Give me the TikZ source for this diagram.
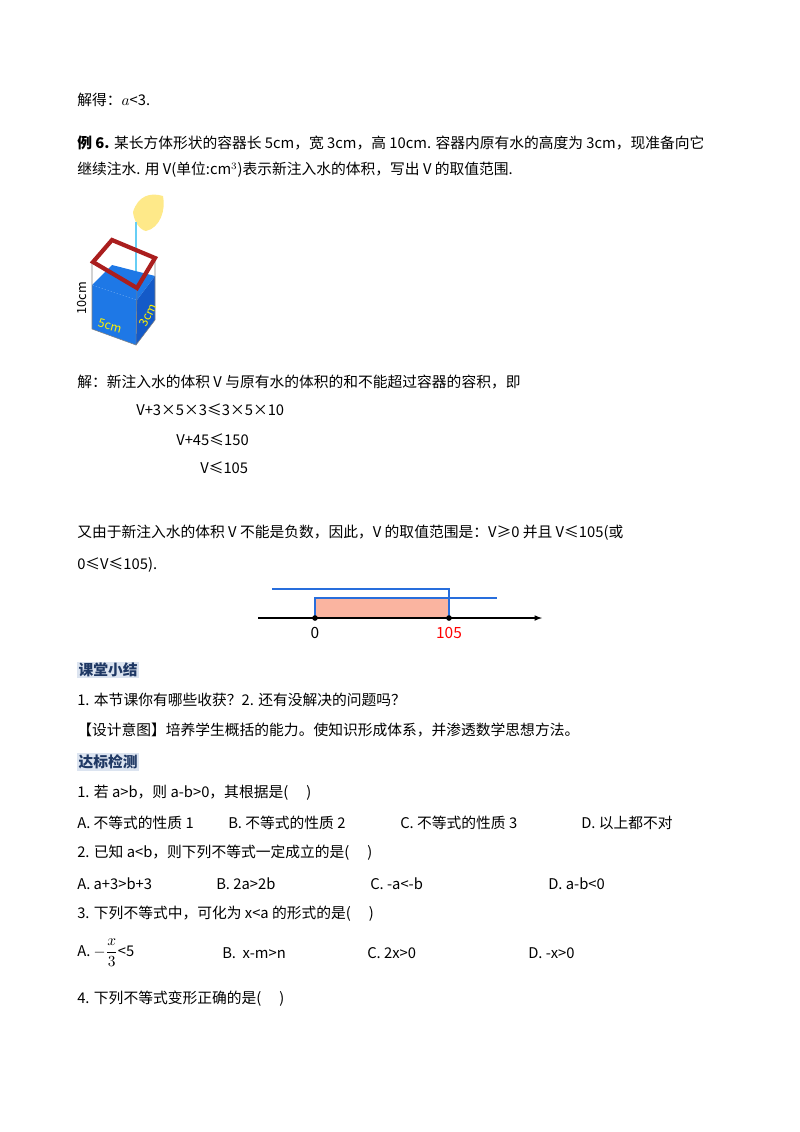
\documentclass[tikz,border=0pt]{standalone}
\usepackage{fontspec}
\setmainfont{Noto Sans CJK SC}
\definecolor{headblue}{RGB}{31,56,100}
\definecolor{headbg}{RGB}{220,228,240}
\definecolor{water}{RGB}{30,120,230}
\definecolor{waterdark}{RGB}{20,90,200}
\definecolor{rim}{RGB}{170,30,30}
\definecolor{lineblue}{RGB}{40,110,220}
\definecolor{pinkfill}{RGB}{250,180,160}
\begin{document}
\begin{tikzpicture}[x=0.025cm,y=-0.025cm,
    txt/.style={anchor=west,inner sep=0pt,font=\fontsize{10.5pt}{12pt}\selectfont},
    head/.style={txt,fill=headbg,text=headblue,font=\fontsize{10.5pt}{12pt}\selectfont\bfseries,inner sep=1pt}]
\useasboundingbox (0,0) rectangle (800,1132);
% text lines
\node[txt] (l1) at (77,100) {解得：$a$<3.};
\node[txt] (l2) at (77,143) {\textbf{例 6.} 某长方体形状的容器长 5cm，宽 3cm，高 10cm. 容器内原有水的高度为 3cm，现准备向它};
\node[txt] (l3) at (77,170) {继续注水. 用 V(单位:cm$^3$)表示新注入水的体积，写出 V 的取值范围.};
% container
\fill[yellow!70!orange!45] (133,212) .. controls (138,196) and (150,192) .. (163,196) .. controls (166,210) and (160,228) .. (146,231) .. controls (140,230) and (134,222) .. cycle;
\draw[cyan!60,line width=1.5pt] (136,222) -- (136,290);
\fill[water] (92,285) -- (112,265) -- (155,276) -- (137,300) -- cycle;
\fill[water] (92,285) -- (137,300) -- (136,345) -- (92,329) -- cycle;
\fill[waterdark] (137,300) -- (155,276) -- (155,320) -- (136,345) -- cycle;
\draw[gray] (92,262) -- (92,329) -- (136,345) -- (155,320) -- (155,258);
\draw[gray] (137,288) -- (136,345);
\draw[rim,line width=3pt] (93,262) -- (112,240) -- (155,258) -- (137,288) -- cycle;
\node[rotate=90,inner sep=0pt,font=\fontsize{9pt}{9pt}\selectfont] (h) at (82,298) {10cm};
\node[text=yellow,rotate=-15,inner sep=0pt,font=\fontsize{8.5pt}{9pt}\selectfont] (w) at (110,326) {5cm};
\node[text=yellow,rotate=65,inner sep=0pt,font=\fontsize{8.5pt}{9pt}\selectfont] (d) at (148,315) {3cm};
% solution
\node[txt] (s1) at (77,382) {解：新注入水的体积 V 与原有水的体积的和不能超过容器的容积，即};
\node[txt] (s2) at (136,410) {V+3×5×3≤3×5×10};
\node[txt] (s3) at (176,440) {V+45≤150};
\node[txt] (s4) at (200,468) {V≤105};
\node[txt] (s5) at (77,533) {又由于新注入水的体积 V 不能是负数，因此，V 的取值范围是：V≥0 并且 V≤105(或};
\node[txt] (s6) at (77,565) {0≤V≤105).};
% number line
\coordinate (ax0) at (258,618);
\coordinate (ax1) at (542,618);
\coordinate (p0) at (315,618);
\coordinate (p1) at (449,618);
\fill[pinkfill] (315,598) rectangle (449,618);
\draw[lineblue,thick] (272,589) -| (p1);
\draw[lineblue,thick] (p0) |- (497,598);
\draw[thick,-latex] (ax0) -- (ax1);
\fill (p0) circle (2pt) (p1) circle (2pt);
\node[inner sep=0pt,font=\fontsize{11pt}{11pt}\selectfont] (n0) at (315,633) {0};
\node[inner sep=0pt,text=red,font=\fontsize{11pt}{11pt}\selectfont] (n1) at (449,633) {105};
% summary
\node[head] (h1) at (77,670) {课堂小结};
\node[txt] (t1) at (77,700) {1. 本节课你有哪些收获？2. 还有没解决的问题吗？};
\node[txt] (t2) at (77,730) {【设计意图】培养学生概括的能力。使知识形成体系，并渗透数学思想方法。};
\node[head] (h2) at (77,762) {达标检测};
\node[txt] (q1) at (77,793) {1. 若 a>b，则 a-b>0，其根据是(\quad\ )};
\node[txt] (q1a) at (77,823) {A. 不等式的性质 1};
\node[txt] (q1b) at (228,823) {B. 不等式的性质 2};
\node[txt] (q1c) at (400,823) {C. 不等式的性质 3};
\node[txt] (q1d) at (581,823) {D. 以上都不对};
\node[txt] (q2) at (77,853) {2. 已知 a<b，则下列不等式一定成立的是(\quad\ )};
\node[txt] (q2a) at (77,884) {A. a+3>b+3};
\node[txt] (q2b) at (216,884) {B. 2a>2b};
\node[txt] (q2c) at (370,884) {C. -a<-b};
\node[txt] (q2d) at (548,884) {D. a-b<0};
\node[txt] (q3) at (77,914) {3. 下列不等式中，可化为 x<a 的形式的是(\quad\ )};
\node[txt] (q3a) at (77,953) {A. $-\displaystyle\frac{x}{3}$<5};
\node[txt] (q3b) at (222,953) {B.\ \ x-m>n};
\node[txt] (q3c) at (367,953) {C. 2x>0};
\node[txt] (q3d) at (528,953) {D. -x>0};
\node[txt] (q4) at (77,999) {4. 下列不等式变形正确的是(\quad\ )};
\end{tikzpicture}
\end{document}
